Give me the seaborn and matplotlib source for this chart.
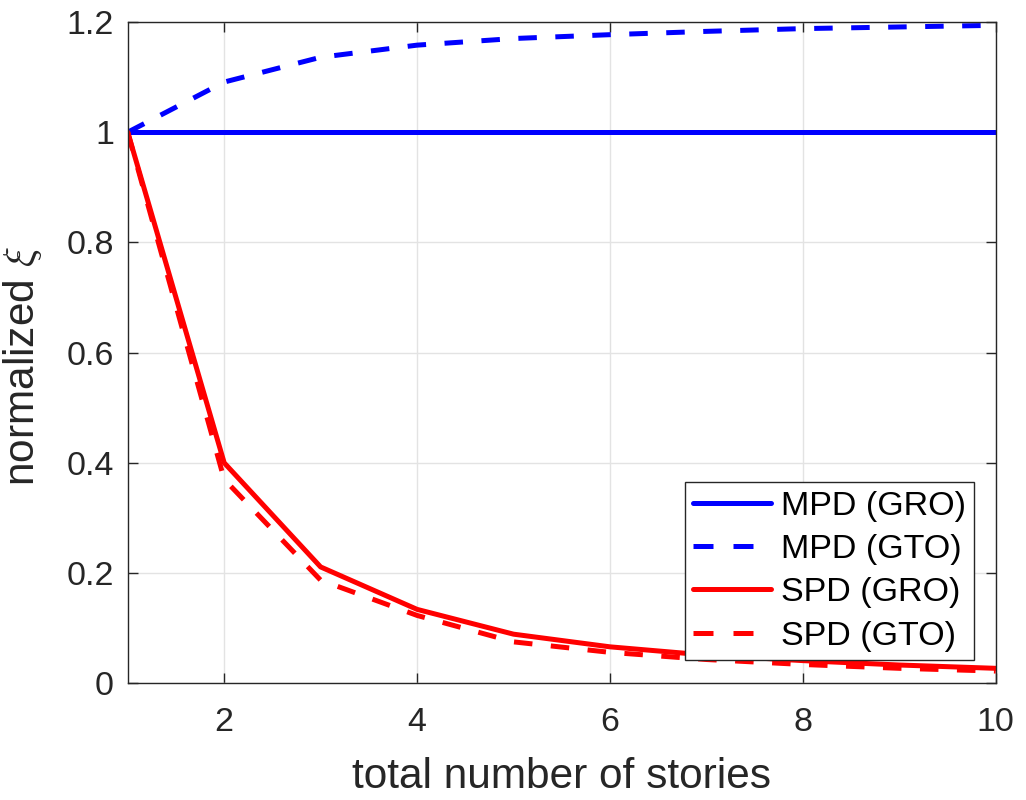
import numpy as np
import pandas as pd
import matplotlib
matplotlib.use("Agg")
import matplotlib.pyplot as plt
import seaborn as sns

# Data
stories = [1, 2, 3, 4, 5, 6, 7, 8, 9, 10]
mpd_gro = [1.0, 1.0, 1.0, 1.0, 1.0, 1.0, 1.0, 1.0, 1.0, 1.0]
mpd_gto = [1.0, 1.091, 1.136, 1.158, 1.170, 1.177, 1.183, 1.188, 1.191, 1.194]
spd_gro = [1.0, 0.400, 0.211, 0.134, 0.089, 0.066, 0.051, 0.041, 0.033, 0.027]
spd_gto = [1.0, 0.370, 0.187, 0.123, 0.075, 0.056, 0.043, 0.034, 0.027, 0.022]

series_names = ["MPD (GRO)", "MPD (GTO)", "SPD (GRO)", "SPD (GTO)"]
series_vals = [mpd_gro, mpd_gto, spd_gro, spd_gto]

df = pd.DataFrame({
    "stories": stories * 4,
    "xi": sum(series_vals, []),
    "series": np.repeat(series_names, len(stories)),
})

palette = {"MPD (GRO)": "#0000ff", "MPD (GTO)": "#0000ff",
           "SPD (GRO)": "#ff0000", "SPD (GTO)": "#ff0000"}
dashes = {"MPD (GRO)": "", "MPD (GTO)": (3.7, 3.7),
          "SPD (GRO)": "", "SPD (GTO)": (3.7, 3.7)}

sns.set_theme(style="whitegrid")
plt.rcParams["font.family"] = ["Liberation Sans", "DejaVu Sans"]
plt.rcParams["mathtext.fontset"] = "cm"

fig = plt.figure(figsize=(10.26, 8), dpi=100)
ax = fig.add_axes([0.1245, 0.146, 0.846, 0.8265])

sns.lineplot(data=df, x="stories", y="xi", hue="series", style="series",
             palette=palette, dashes=dashes, linewidth=3.6, ax=ax,
             hue_order=series_names, style_order=series_names)

ax.set_xlim(1, 10)
ax.set_ylim(0, 1.2)
ax.set_xticks([2, 4, 6, 8, 10])
yt = [0, 0.2, 0.4, 0.6, 0.8, 1.0, 1.2]
ax.set_yticks(yt)
ax.set_yticklabels(["%g" % v for v in yt])

ax.grid(True, color="#e3e3e3", linewidth=1.0)
for s in ax.spines.values():
    s.set_visible(True)
    s.set_color("#262626")
    s.set_linewidth(1.0)
ax.tick_params(axis="both", which="both", direction="in", length=7, width=1,
               color="#262626", labelcolor="#262626", labelsize=24.5,
               top=True, right=True, bottom=True, left=True)
ax.tick_params(axis="x", pad=17)
ax.tick_params(axis="y", pad=10)

ax.set_xlabel("total number of stories", fontsize=30.5, color="#262626", labelpad=14)
ax.set_ylabel(r"normalized $\xi$", fontsize=30.5, color="#262626")
ax.yaxis.set_label_coords(-0.096, 0.48)

leg = ax.legend(loc="lower right", bbox_to_anchor=(0.975, 0.035), borderaxespad=0,
                fontsize=24.5, frameon=True, fancybox=False, framealpha=1,
                edgecolor="#262626", handlelength=2.3, handletextpad=0.27,
                labelspacing=0.36, borderpad=0.25)
leg.get_frame().set_linewidth(1.0)
for line, name in zip(leg.get_lines(), series_names):
    line.set_linewidth(3.6)
    if "GTO" in name:
        line.set_dashes((4.0, 4.0))
for t in leg.get_texts():
    t.set_color("black")

fig.savefig("out.png", dpi=100)
